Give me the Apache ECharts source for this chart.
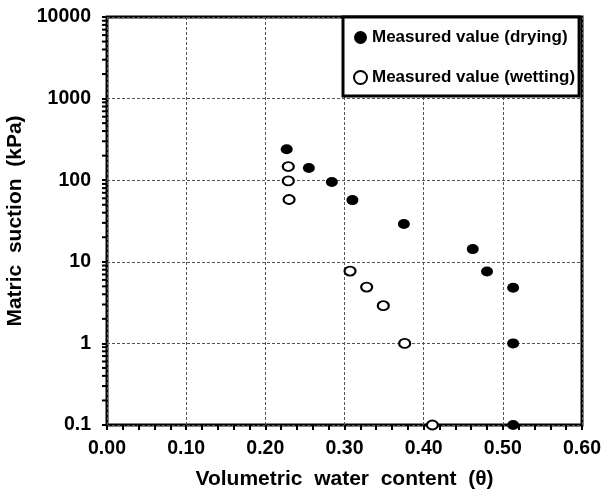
<!DOCTYPE html>
<html>
<head>
<meta charset="utf-8">
<script src="https://cdn.jsdelivr.net/npm/echarts@6/dist/echarts.min.js"></script>
<style>
  html, body { margin: 0; padding: 0; background: #fff; }
  #chart { width: 616px; height: 491px; }
</style>
</head>
<body>
<div id="chart"></div>
<script>
// Soil-water retention measurements: volumetric water content vs matric suction (kPa)
const dryingPoints = [
  [0.227, 240], [0.255, 141], [0.284, 95], [0.310, 57], [0.375, 29],
  [0.462, 14.3], [0.480, 7.6], [0.513, 4.8], [0.513, 1], [0.513, 0.1]
];
const wettingPoints = [
  [0.229, 147], [0.229, 98], [0.230, 58], [0.307, 7.7], [0.328, 4.9],
  [0.349, 2.9], [0.376, 1], [0.411, 0.1]
];
const xTickLabels = ['0.00', '0.10', '0.20', '0.30', '0.40', '0.50', '0.60'];
const yTickLabels = ['0.1', '1', '10', '100', '1000', '10000'];
// Minor ticks of the logarithmic suction axis (2..9 within each decade)
const yMinorTicks = [
  0.2, 0.3, 0.4, 0.5, 0.6, 0.7, 0.8, 0.9,
  2, 3, 4, 5, 6, 7, 8, 9,
  20, 30, 40, 50, 60, 70, 80, 90,
  200, 300, 400, 500, 600, 700, 800, 900,
  2000, 3000, 4000, 5000, 6000, 7000, 8000, 9000
];

const FONT = '"Liberation Sans", Arial, sans-serif';
const chart = echarts.init(document.getElementById('chart'), null, { renderer: 'canvas' });

chart.setOption({
  animation: false,
  backgroundColor: '#fff',
  grid: {
    left: 107, right: 34, top: 17, bottom: 66,
    outerBoundsMode: 'none',
    containLabel: false,
    show: true, borderColor: '#000', borderWidth: 3, backgroundColor: 'transparent'
  },
  legend: {
    data: ['Measured value (drying)', 'Measured value (wetting)'],
    orient: 'vertical',
    left: 343, top: 17,
    padding: [12, 4, 10, 10],
    itemGap: 23,
    itemWidth: 13, itemHeight: 13,
    backgroundColor: '#fff',
    borderColor: '#000', borderWidth: 3,
    textStyle: {
      fontFamily: FONT, fontWeight: 'bold', fontSize: 17, color: '#000',
      lineHeight: 17
    }
  },
  xAxis: {
    type: 'value', min: 0, max: 0.6, interval: 0.1,
    name: 'Volumetric  water  content  (θ)',
    nameLocation: 'middle', nameGap: 44,
    nameTextStyle: { fontFamily: FONT, fontWeight: 'bold', fontSize: 21, color: '#000' },
    axisLine: { show: false },
    axisTick: { show: true, inside: false, length: 5, lineStyle: { color: '#000', width: 2 } },
    minorTick: { show: true, splitNumber: 5, length: 5, lineStyle: { color: '#000', width: 2 } },
    axisLabel: {
      margin: 14, fontFamily: FONT, fontWeight: 'bold', fontSize: 19.5, color: '#000',
      formatter: (v) => xTickLabels[Math.round(v * 10)]
    },
    splitLine: { show: true, lineStyle: { color: '#555', width: 1, type: [3, 2] } }
  },
  yAxis: {
    type: 'log', logBase: 10, min: 0.1, max: 10000,
    name: 'Matric  suction  (kPa)',
    nameLocation: 'middle', nameGap: 72, nameRotate: 90,
    nameTextStyle: { fontFamily: FONT, fontWeight: 'bold', fontSize: 21, color: '#000' },
    axisLine: { show: false },
    axisTick: { show: true, inside: false, length: 5, lineStyle: { color: '#000', width: 2 } },
    axisLabel: {
      margin: 16, fontFamily: FONT, fontWeight: 'bold', fontSize: 19.5, color: '#000',
      formatter: (v) => yTickLabels[Math.round(Math.log10(v)) + 1]
    },
    splitLine: { show: true, lineStyle: { color: '#555', width: 1, type: [3, 2] } }
  },
  series: [
    {
      name: 'yMinorTicks',
      type: 'custom',
      silent: true,
      clip: false,
      z: 3,
      data: yMinorTicks.map((v) => [0, v]),
      renderItem: (params, api) => {
        const p = api.coord([api.value(0), api.value(1)]);
        return {
          type: 'line',
          shape: { x1: p[0] - 5, y1: p[1], x2: p[0], y2: p[1] },
          style: { stroke: '#000', lineWidth: 2 }
        };
      }
    },
    {
      name: 'Measured value (drying)',
      type: 'scatter',
      data: dryingPoints,
      symbol: 'circle',
      symbolSize: [12, 10],
      clip: false,
      z: 5,
      itemStyle: { color: '#000', borderColor: '#000', borderWidth: 0, opacity: 1 }
    },
    {
      name: 'Measured value (wetting)',
      type: 'scatter',
      data: wettingPoints,
      symbol: 'circle',
      symbolSize: [11, 9],
      clip: false,
      z: 5,
      itemStyle: { color: '#fff', borderColor: '#000', borderWidth: 2, opacity: 1 }
    }
  ]
});
</script>
</body>
</html>
